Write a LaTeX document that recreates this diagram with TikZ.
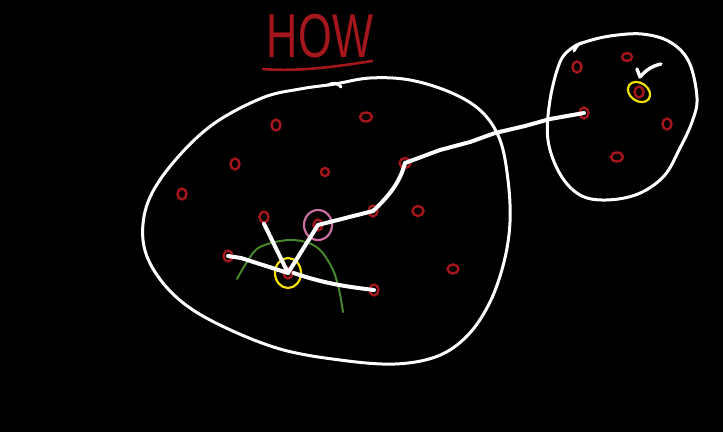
\documentclass[tikz,border=0pt]{standalone}
\usepackage{fontspec}
\setmainfont{Liberation Sans}
\usetikzlibrary{shapes.geometric}
\definecolor{inkred}{RGB}{165,22,28}
\definecolor{inkgreen}{RGB}{70,135,45}
\definecolor{inkpink}{RGB}{200,110,160}
\definecolor{inkyellow}{RGB}{240,225,0}
\tikzset{
  dot/.style={ellipse,draw=inkred,line width=2.4pt,minimum width=9pt,minimum height=11pt,inner sep=0pt},
  wire/.style={white,line width=4pt,line cap=round,line join=round},
  outline/.style={white,line width=3pt,line cap=round,line join=round},
  ring/.style={line width=2.2pt}
}
\begin{document}
\begin{tikzpicture}[x=1pt,y=-1pt]
\fill[black] (0,0) rectangle (723,432);
\useasboundingbox (0,0) rectangle (723,432);
% title
\node[inkred,font=\fontsize{62}{62}\selectfont,xscale=0.7,inner sep=0pt] (title) at (320,36) {HOW};
\draw[inkred,line width=2.6pt,line cap=round] (263,69) .. controls (300,72) and (340,66) .. (372,61);
% big blob
\draw[outline] plot[smooth cycle,tension=0.6] coordinates {(335,84) (370,78) (410,80) (452,93) (482,112) (500,140) (508,180) (510,222) (504,262) (490,302) (468,335) (438,356) (395,364) (340,360) (280,349) (222,326) (182,302) (155,272) (143,240) (148,202) (172,164) (212,125) (262,98) (300,89)};
\draw[outline] (328,85) .. controls (334,82) and (338,83) .. (341,87);
% small blob
\draw[outline] plot[smooth cycle,tension=0.6] coordinates {(585,42) (610,36) (642,34) (670,42) (689,62) (697,98) (692,122) (680,148) (664,176) (638,194) (606,200) (580,195) (560,174) (548,140) (550,100) (560,62) (572,48)};
\draw[outline] (574,51) .. controls (576,47) and (578,44) .. (581,43);
% red nodes, big blob
\node[dot] (a1) at (276,125) {};
\node[dot,minimum width=12pt,minimum height=9pt] (a2) at (366,117) {};
\node[dot] (a3) at (235,164) {};
\node[dot,minimum width=8pt,minimum height=8pt] (a4) at (325,172) {};
\node[dot] (a5) at (182,194) {};
\node[dot,minimum width=11pt,minimum height=10pt] (a6) at (405,163) {};
\node[dot] (a7) at (373,211) {};
\node[dot,minimum width=11pt,minimum height=10pt] (a8) at (418,211) {};
\node[dot] (a9) at (264,217) {};
\node[dot] (a10) at (318,225) {};
\node[dot] (a11) at (228,256) {};
\node[dot] (a12) at (288,273) {};
\node[dot] (a13) at (374,290) {};
\node[dot,minimum width=11pt,minimum height=9pt] (a14) at (453,269) {};
% red nodes, small blob
\node[dot] (b1) at (577,67) {};
\node[dot,minimum width=10pt,minimum height=8pt] (b2) at (627,57) {};
\node[dot] (b3) at (584,113) {};
\node[dot] (b4) at (639,92) {};
\node[dot] (b5) at (667,124) {};
\node[dot,minimum width=12pt,minimum height=9pt] (b6) at (617,157) {};
% rings
\draw[inkpink,ring] (a10) ellipse (14pt and 15pt);
\draw[inkyellow,ring] (a12) ellipse (13pt and 15pt);
\draw[inkyellow,ring,rotate around={-35:(b4)}] (b4) ellipse (12pt and 9pt);
% green arc
\draw[inkgreen,line width=2pt,line cap=round] plot[smooth,tension=0.6] coordinates {(237,279) (247,262) (260,247) (290,240) (315,246) (330,264) (338,285) (343,312)};
% white connectors
\draw[wire] (a11.center) -- (241,258) -- (a12.center);
\draw[wire] (a12.center) -- (a9.south);
\draw[wire] (a12.center) -- (a10.center);
\draw[wire] (a12.east) .. controls (320,282) and (340,286) .. (a13.center);
\draw[wire] (a10.center) -- (a7.center);
\draw[wire] (a7.center) .. controls (390,195) and (400,182) .. (a6.center);
\draw[wire] (a6.center) -- (440,150) -- (470,142) -- (495,133) -- (525,126) -- (550,119) -- (b3.center);
\coordinate (tk) at (661,64);
\draw[wire,line width=3.4pt] (637,69) -- (640,77) .. controls (646,70) and (652,66) .. (tk);
\end{tikzpicture}
\end{document}
